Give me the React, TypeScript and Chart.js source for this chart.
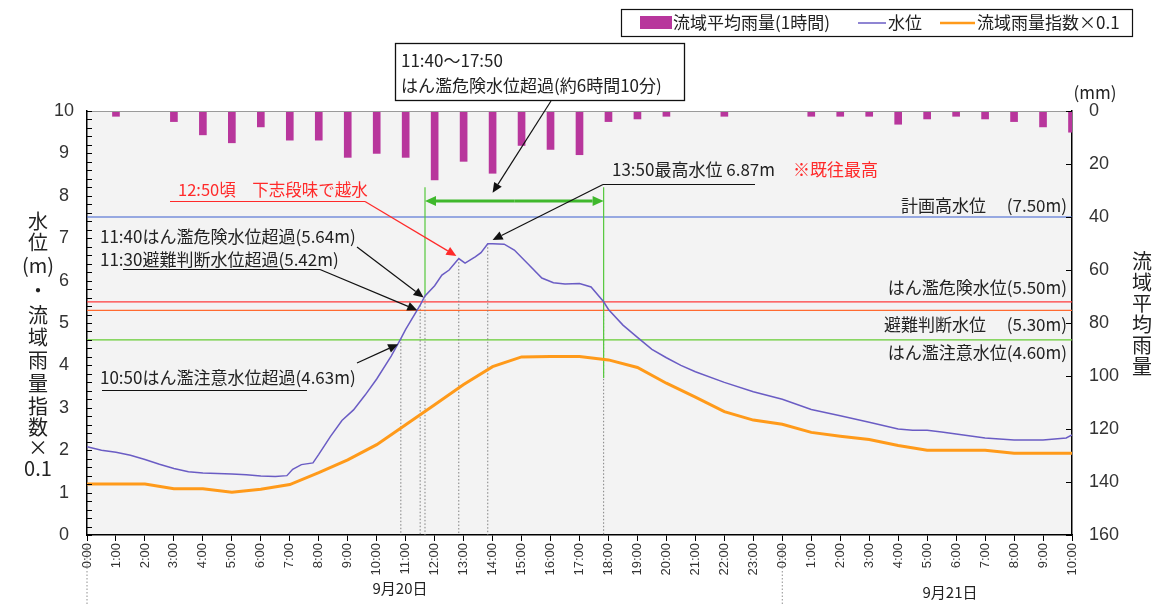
import React, { useEffect, useRef } from "react";
import { Chart, registerables } from "chart.js";

Chart.register(...registerables);

// ---- DATA ----
// x-axis hour tick labels (9/20 0:00 .. 9/21 10:00)
const hourTickLabels = [
  "0:00", "1:00", "2:00", "3:00", "4:00", "5:00", "6:00", "7:00", "8:00", "9:00",
  "10:00", "11:00", "12:00", "13:00", "14:00", "15:00", "16:00", "17:00", "18:00",
  "19:00", "20:00", "21:00", "22:00", "23:00",
  "0:00", "1:00", "2:00", "3:00", "4:00", "5:00", "6:00", "7:00", "8:00", "9:00", "10:00",
];
const dayLabels = ["9月20日", "9月21日"];

// hourly basin-average rainfall (mm), hours elapsed since 9/20 0:00
const rainHours = [1, 2, 3, 4, 5, 6, 7, 8, 9, 10, 11, 12, 13, 14, 15, 16, 17, 18, 19, 20, 21, 22, 23, 24, 25, 26, 27, 28, 29, 30, 31, 32, 33, 34];
const rainMm = [2, 0, 4, 9, 12, 6, 11, 11, 17.5, 16, 17.5, 26, 19, 23.5, 13, 14.5, 16.5, 4, 3, 2, 0, 2, 0, 0, 2, 2, 2, 5, 3, 2, 3, 4, 6, 8];

// water level (m)
const levelHours = [0, 0.5, 1, 1.5, 2, 2.5, 3, 3.5, 4, 5, 5.5, 6, 6.5, 6.9, 7.1, 7.4, 7.8, 8.0, 8.4, 8.8, 9.2, 9.6, 10, 10.5, 10.833, 11, 11.5, 11.667, 12, 12.25, 12.5, 12.833, 13.05, 13.4, 13.6, 13.833, 14, 14.4, 14.75, 15.2, 15.7, 16.1, 16.5, 17, 17.4, 17.833, 18, 18.5, 19, 19.5, 20, 20.5, 21, 22, 23, 24, 25, 26, 27, 28, 28.5, 29, 29.5, 30, 31, 32, 33, 33.8, 34];
const levelM = [2.08, 2.0, 1.95, 1.88, 1.78, 1.67, 1.57, 1.49, 1.46, 1.44, 1.42, 1.39, 1.38, 1.4, 1.55, 1.66, 1.7, 1.9, 2.32, 2.7, 2.95, 3.3, 3.68, 4.22, 4.63, 4.85, 5.42, 5.64, 5.88, 6.13, 6.25, 6.52, 6.41, 6.56, 6.66, 6.87, 6.87, 6.86, 6.72, 6.41, 6.06, 5.95, 5.92, 5.93, 5.85, 5.5, 5.32, 4.95, 4.66, 4.38, 4.18, 4.0, 3.85, 3.6, 3.38, 3.2, 2.96, 2.81, 2.66, 2.5, 2.47, 2.47, 2.43, 2.38, 2.29, 2.24, 2.24, 2.29, 2.36];

// basin rainfall index x0.1 (hourly)
const indexHours = [0, 1, 2, 3, 4, 5, 6, 7, 8, 9, 10, 11, 12, 13, 14, 15, 16, 17, 18, 19, 20, 21, 22, 23, 24, 25, 26, 27, 28, 29, 30, 31, 32, 33, 34];
const indexValues = [1.2, 1.2, 1.2, 1.09, 1.09, 1.01, 1.08, 1.19, 1.47, 1.77, 2.13, 2.6, 3.07, 3.55, 3.97, 4.2, 4.21, 4.21, 4.13, 3.95, 3.58, 3.25, 2.91, 2.71, 2.61, 2.42, 2.33, 2.25, 2.11, 2.0, 2.0, 2.0, 1.93, 1.93, 1.93];

// reference water levels
const thresholdNames = ["計画高水位　 (7.50m)", "はん濫危険水位(5.50m)", "避難判断水位　 (5.30m)", "はん濫注意水位(4.60m)"];
const thresholdValues = [7.5, 5.5, 5.3, 4.6];
const thresholdColors = ["#3b5fd0", "#ff3b3b", "#ff6a30", "#66cc33"];

// event times (hours) and level at each event (dotted guide lines)
const eventHours = [10.833, 11.5, 11.667, 12.833, 13.833, 17.833];
const eventLevels = [4.63, 5.42, 5.64, 6.52, 6.87, 5.5];

const JP = '"Noto Sans CJK JP", "Noto Sans", sans-serif';
const NUM = '"Liberation Sans", Arial, sans-serif';

function arrow(ctx: CanvasRenderingContext2D, x1: number, y1: number, x2: number, y2: number, color: string, lw: number, head = 10, hw = 4.5) {
  ctx.save();
  ctx.strokeStyle = color;
  ctx.fillStyle = color;
  ctx.lineWidth = lw;
  const ang = Math.atan2(y2 - y1, x2 - x1);
  const bx = x2 - head * Math.cos(ang);
  const by = y2 - head * Math.sin(ang);
  ctx.beginPath();
  ctx.moveTo(x1, y1);
  ctx.lineTo(bx, by);
  ctx.stroke();
  ctx.beginPath();
  ctx.moveTo(x2, y2);
  ctx.lineTo(bx + hw * Math.sin(ang), by - hw * Math.cos(ang));
  ctx.lineTo(bx - hw * Math.sin(ang), by + hw * Math.cos(ang));
  ctx.closePath();
  ctx.fill();
  ctx.restore();
}

const decorPlugin = {
  id: "decor",
  beforeDraw(chart: any) {
    const { ctx, chartArea: a } = chart;
    ctx.save();
    ctx.fillStyle = "#ffffff";
    ctx.fillRect(0, 0, chart.width, chart.height);
    ctx.fillStyle = "#f3f3f3";
    ctx.fillRect(a.left, a.top, a.right - a.left, a.bottom - a.top);
    ctx.restore();
  },
  beforeDatasetsDraw(chart: any) {
    const { ctx, chartArea: a } = chart;
    const X = (h: number) => chart.scales.x.getPixelForValue(h);
    const Y = (v: number) => chart.scales.yL.getPixelForValue(v);
    ctx.save();
    thresholdValues.forEach((v, i) => {
      ctx.strokeStyle = thresholdColors[i];
      ctx.lineWidth = 1.2;
      ctx.beginPath();
      ctx.moveTo(a.left, Y(v));
      ctx.lineTo(a.right, Y(v));
      ctx.stroke();
    });
    ctx.strokeStyle = "#808080";
    ctx.lineWidth = 1;
    ctx.setLineDash([1.5, 2]);
    eventHours.forEach((h, i) => {
      ctx.beginPath();
      ctx.moveTo(X(h), Y(eventLevels[i]));
      ctx.lineTo(X(h), a.bottom);
      ctx.stroke();
    });
    ctx.setLineDash([]);
    ctx.strokeStyle = "#55c83c";
    ctx.lineWidth = 1.2;
    ctx.beginPath();
    ctx.moveTo(X(eventHours[2]), Y(8.2));
    ctx.lineTo(X(eventHours[2]), Y(eventLevels[2]));
    ctx.moveTo(X(eventHours[5]), Y(8.2));
    ctx.lineTo(X(eventHours[5]), Y(3.7));
    ctx.stroke();
    ctx.restore();
  },
  afterDraw(chart: any) {
    const { ctx, chartArea: a } = chart;
    const X = (h: number) => chart.scales.x.getPixelForValue(h);
    const Y = (v: number) => chart.scales.yL.getPixelForValue(v);
    const YR = (v: number) => chart.scales.yR.getPixelForValue(v);
    ctx.save();

    ctx.strokeStyle = "#9a9a9a";
    ctx.lineWidth = 1;
    ctx.beginPath();
    ctx.moveTo(a.left, a.top + 0.5);
    ctx.lineTo(a.right, a.top + 0.5);
    ctx.stroke();

    ctx.strokeStyle = "#000";
    ctx.lineWidth = 1;
    for (let i = 0; i <= 50; i++) {
      const y = Math.round(Y(i / 5)) + 0.5;
      ctx.beginPath();
      ctx.moveTo(a.left, y);
      ctx.lineTo(a.left + 5, y);
      ctx.stroke();
    }
    for (let i = 0; i <= 8; i++) {
      const y = Math.round(YR(i * 20)) + 0.5;
      ctx.beginPath();
      ctx.moveTo(a.right - 6, y);
      ctx.lineTo(a.right, y);
      ctx.stroke();
    }

    ctx.strokeStyle = "#909090";
    ctx.setLineDash([1.5, 2]);
    [0, 24].forEach((h) => {
      ctx.beginPath();
      ctx.moveTo(X(h), a.bottom + 8);
      ctx.lineTo(X(h), chart.height);
      ctx.stroke();
    });
    ctx.setLineDash([]);

    ctx.fillStyle = "#222";
    ctx.font = `15px ${JP}`;
    ctx.textAlign = "center";
    ctx.textBaseline = "middle";
    ctx.fillText(dayLabels[0], 400, 588);
    ctx.fillText(dayLabels[1], 950, 592);

    const labelOffsets = [-11, -14, 14, 13];
    ctx.font = `17px ${JP}`;
    ctx.textAlign = "right";
    thresholdValues.forEach((v, i) => {
      ctx.fillStyle = "#222";
      ctx.fillText(thresholdNames[i], a.right - 5, Y(v) + labelOffsets[i]);
    });

    const gy = Y(7.88);
    const gx1 = X(eventHours[2]);
    const gx2 = X(eventHours[5]);
    const gm = (gx1 + gx2) / 2;
    arrow(ctx, gm, gy, gx1, gy, "#3fb82c", 3, 11, 5);
    arrow(ctx, gm, gy, gx2, gy, "#3fb82c", 3, 11, 5);

    ctx.fillStyle = "#ffffff";
    ctx.fillRect(395, 43, 289, 57);
    ctx.strokeStyle = "#111";
    ctx.lineWidth = 1.3;
    ctx.strokeRect(395.5, 43.5, 289, 57);
    ctx.fillStyle = "#222";
    ctx.font = `17px ${JP}`;
    ctx.textAlign = "left";
    ctx.fillText("11:40～17:50", 401, 61);
    ctx.fillText("はん濫危険水位超過(約6時間10分)", 401, 86);
    arrow(ctx, 551, 101, X(14.0), Y(8.07), "#111", 1.2);

    ctx.font = `16.5px ${JP}`;
    ctx.fillStyle = "#ff2a2a";
    ctx.fillText("12:50頃　下志段味で越水", 178, 190);
    ctx.strokeStyle = "#ff2a2a";
    ctx.lineWidth = 1;
    ctx.beginPath();
    ctx.moveTo(170, 201.5);
    ctx.lineTo(365, 201.5);
    ctx.stroke();
    arrow(ctx, 365, 201.5, X(12.75), Y(6.58), "#ff2a2a", 1.2);

    ctx.font = `17px ${JP}`;
    ctx.fillStyle = "#222";
    ctx.fillText("13:50最高水位 6.87m", 612, 170);
    ctx.fillStyle = "#ff2a2a";
    ctx.fillText("※既往最高", 793, 170);
    ctx.strokeStyle = "#111";
    ctx.beginPath();
    ctx.moveTo(755, 184.5);
    ctx.lineTo(603, 184.5);
    ctx.stroke();
    arrow(ctx, 603, 184.5, X(14.0), Y(6.96), "#111", 1.2);

    ctx.fillStyle = "#222";
    ctx.fillText("11:40はん濫危険水位超過(5.64m)", 100, 237);
    arrow(ctx, 357, 247, X(11.62), Y(5.6), "#111", 1.2);
    ctx.fillText("11:30避難判断水位超過(5.42m)", 100, 260);
    ctx.strokeStyle = "#111";
    ctx.beginPath();
    ctx.moveTo(123, 269.5);
    ctx.lineTo(320, 269.5);
    ctx.stroke();
    arrow(ctx, 320, 269.5, X(11.4), Y(5.3), "#111", 1.2);
    ctx.fillText("10:50はん濫注意水位超過(4.63m)", 100, 378);
    ctx.beginPath();
    ctx.moveTo(102, 390.5);
    ctx.lineTo(307, 390.5);
    ctx.stroke();
    arrow(ctx, 357, 363, X(10.74), Y(4.5), "#111", 1.2);

    // legend
    ctx.strokeStyle = "#111";
    ctx.lineWidth = 1.2;
    ctx.strokeRect(621.5, 9.5, 511, 27);
    ctx.fillStyle = "#b8369c";
    ctx.fillRect(640, 16, 32, 13);
    ctx.fillStyle = "#222";
    ctx.font = `17px ${JP}`;
    ctx.textBaseline = "middle";
    ctx.fillText("流域平均雨量(1時間)", 673, 23);
    ctx.strokeStyle = "#6a5cc4";
    ctx.lineWidth = 1.5;
    ctx.beginPath();
    ctx.moveTo(858, 23);
    ctx.lineTo(886, 23);
    ctx.stroke();
    ctx.fillText("水位", 888, 23);
    ctx.strokeStyle = "#ff9a1a";
    ctx.lineWidth = 2.5;
    ctx.beginPath();
    ctx.moveTo(940, 23);
    ctx.lineTo(975, 23);
    ctx.stroke();
    ctx.fillText("流域雨量指数×0.1", 977, 23);

    // axis titles
    ctx.font = `20px ${JP}`;
    ctx.textAlign = "center";
    ctx.fillStyle = "#222";
    const leftTitle = ["水", "位", "(m)", "・", "流", "域", "雨", "量", "指", "数", "×", "0.1"];
    const leftY = [221, 242, 265, 290, 315, 337, 360, 383, 406, 427, 447, 468];
    leftTitle.forEach((t, i) => ctx.fillText(t, 38, leftY[i]));
    const rightTitle = ["流", "域", "平", "均", "雨", "量"];
    rightTitle.forEach((t, i) => ctx.fillText(t, 1142, 261 + i * 21));
    ctx.font = `17px ${JP}`;
    ctx.fillText("(mm)", 1095, 93);

    ctx.restore();
  },
};

export default function App() {
  const ref = useRef<HTMLCanvasElement>(null);
  useEffect(() => {
    document.body.style.margin = "0";
    const chart = new Chart(ref.current as HTMLCanvasElement, {
      type: "line",
      data: {
        datasets: [
          {
            type: "bar",
            label: "流域平均雨量(1時間)",
            data: rainHours.map((h, i) => ({ x: h, y: rainMm[i] })),
            yAxisID: "yR",
            xAxisID: "x",
            backgroundColor: "#b8369c",
            barThickness: 7,
            order: 3,
          } as any,
          {
            type: "line",
            label: "水位",
            data: levelHours.map((h, i) => ({ x: h, y: levelM[i] })),
            yAxisID: "yL",
            xAxisID: "x",
            borderColor: "#6a5cc4",
            borderWidth: 1.5,
            pointRadius: 0,
            tension: 0,
            order: 1,
          },
          {
            type: "line",
            label: "流域雨量指数×0.1",
            data: indexHours.map((h, i) => ({ x: h, y: indexValues[i] })),
            yAxisID: "yL",
            xAxisID: "x",
            borderColor: "#ff9a1a",
            borderWidth: 3,
            pointRadius: 0,
            tension: 0,
            order: 2,
          },
        ],
      },
      options: {
        responsive: false,
        animation: false,
        layout: { padding: { top: 111, left: 0, right: 0, bottom: 0 } },
        plugins: { legend: { display: false }, tooltip: { enabled: false } },
        scales: {
          x: {
            type: "linear",
            min: 0,
            max: 34,
            offset: false,
            afterFit: (s: any) => { s.height = 70; },
            ticks: {
              stepSize: 1,
              autoSkip: false,
              minRotation: 90,
              maxRotation: 90,
              padding: 2,
              color: "#333",
              font: { size: 13, family: NUM },
              callback: (v: any) => hourTickLabels[Math.round(Number(v))] ?? "",
            },
            grid: { drawOnChartArea: false, tickLength: 6, color: "#000", offset: false },
            border: { display: true, color: "#000", width: 1.5 },
          },
          yL: {
            type: "linear",
            position: "left",
            min: 0,
            max: 10,
            afterFit: (s: any) => { s.width = 87; },
            ticks: { stepSize: 1, padding: 13, crossAlign: "center", color: "#333", font: { size: 18, family: NUM } },
            grid: { drawOnChartArea: false, drawTicks: false },
            border: { display: true, color: "#000", width: 1.5 },
          },
          yR: {
            type: "linear",
            position: "right",
            reverse: true,
            min: 0,
            max: 160,
            afterFit: (s: any) => { s.width = 84; },
            ticks: { stepSize: 20, padding: 17, color: "#333", font: { size: 18, family: NUM } },
            grid: { drawOnChartArea: false, drawTicks: false },
            border: { display: true, color: "#000", width: 1.5 },
          },
        },
      } as any,
      plugins: [decorPlugin],
    });
    return () => chart.destroy();
  }, []);
  return (
    <div style={{ position: "fixed", left: 0, top: 0, width: 1156, height: 605 }}>
      <canvas ref={ref} width={1156} height={605} />
    </div>
  );
}
